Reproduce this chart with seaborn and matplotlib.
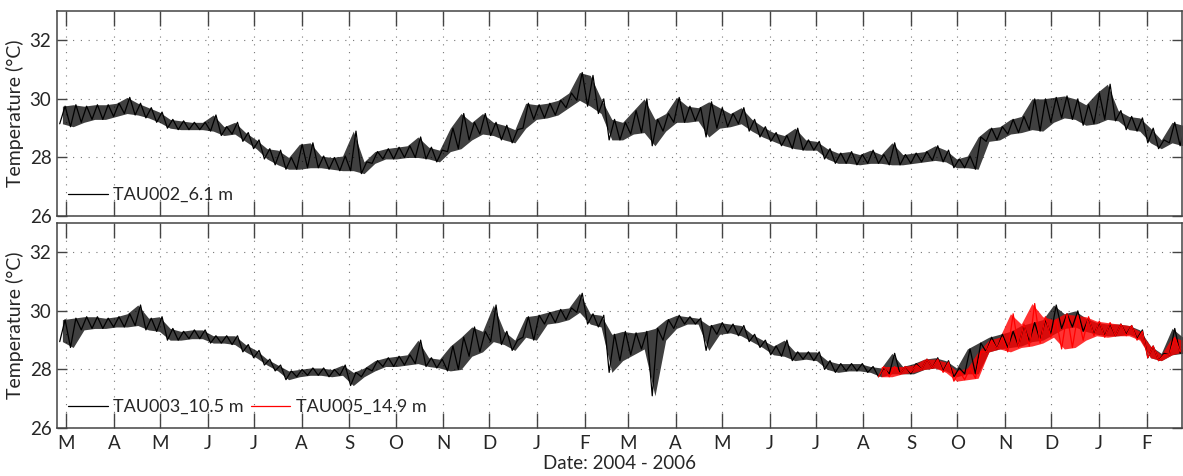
import matplotlib
matplotlib.use("Agg")
import matplotlib.pyplot as plt
import matplotlib.dates as mdates
from matplotlib.ticker import FuncFormatter
import seaborn as sns
import pandas as pd
import numpy as np

# weekly readings (low / high) starting 2004-02-24, one pair per week
first_week = "2004-02-24"

tau002_low = [29.15, 29.05, 29.2, 29.3, 29.3, 29.4, 29.5, 29.45, 29.35, 29.2,
              29.0, 28.95, 28.95, 28.95, 28.9, 28.75, 28.8, 28.55, 28.3, 27.95,
              27.75, 27.6, 27.6, 27.65, 27.65, 27.6, 27.55, 27.55, 27.45, 27.8,
              27.95, 27.95, 28.0, 28.0, 27.95, 27.85, 28.2, 28.3, 28.6, 28.8,
              28.75, 28.6, 28.5, 29.0, 29.3, 29.35, 29.45, 29.7, 29.95, 29.75,
              29.5, 28.6, 28.6, 28.8, 28.85, 28.4, 28.9, 29.2, 29.2, 29.25,
              28.7, 29.0, 29.05, 29.15, 28.9, 28.7, 28.55, 28.4, 28.3, 28.25,
              28.25, 27.95, 27.8, 27.8, 27.75, 27.8, 27.8, 27.75, 27.75, 27.8,
              27.85, 27.9, 27.85, 27.65, 27.65, 27.6, 28.55, 28.6, 28.8, 28.85,
              28.95, 28.9, 29.2, 29.35, 29.3, 29.1, 29.15, 29.3, 29.25, 28.95,
              28.9, 28.5, 28.3, 28.5, 28.4]
tau002_high = [29.75, 29.8, 29.75, 29.8, 29.8, 29.85, 30.05, 29.85, 29.7, 29.55,
               29.3, 29.25, 29.2, 29.2, 29.45, 29.05, 29.2, 28.85, 28.6, 28.3,
               28.25, 28.0, 28.45, 28.5, 28.05, 28.0, 28.05, 28.9, 27.85, 28.2,
               28.3, 28.35, 28.4, 28.7, 28.35, 28.25, 29.0, 29.5, 29.2, 29.5,
               29.2, 29.1, 28.95, 29.85, 29.8, 29.85, 29.95, 30.2, 30.9, 30.8,
               30.0, 29.3, 29.2, 29.6, 30.0, 29.3, 29.5, 30.05, 29.75, 29.7,
               29.9, 29.7, 29.5, 29.7, 29.3, 29.05, 28.85, 28.75, 29.0, 28.6,
               28.55, 28.3, 28.15, 28.2, 28.1, 28.25, 28.1, 28.5, 28.1, 28.15,
               28.2, 28.4, 28.25, 27.95, 28.05, 28.7, 29.0, 29.05, 29.3, 29.4,
               30.0, 30.0, 30.05, 30.1, 30.0, 29.8, 30.2, 30.5, 29.6, 29.4,
               29.35, 29.0, 28.6, 29.2, 29.1]

tau003_low = [28.95, 28.75, 29.35, 29.4, 29.4, 29.45, 29.45, 29.5, 29.35, 29.3,
              29.0, 29.0, 29.05, 29.05, 28.9, 28.9, 28.85, 28.6, 28.4, 28.15,
              27.95, 27.65, 27.75, 27.8, 27.8, 27.75, 27.8, 27.45, 27.75, 27.95,
              28.1, 28.1, 28.15, 28.2, 28.1, 28.05, 27.95, 28.0, 28.45, 28.6,
              28.95, 28.85, 28.65, 29.1, 29.0, 29.55, 29.6, 29.7, 29.95, 29.55,
              29.45, 27.9, 28.3, 28.5, 28.7, 27.1, 29.0, 29.4, 29.55, 29.55,
              28.65, 29.2, 29.25, 29.15, 28.95, 28.75, 28.5, 28.45, 28.3, 28.35,
              28.3, 28.0, 27.9, 27.95, 27.95, 27.9, 27.75, 27.85, 27.85, 27.85,
              28.0, 28.05, 27.95, 27.75, 27.85, 27.85, 28.6, 28.7, 28.75, 28.8,
              28.95, 29.0, 29.2, 29.4, 29.45, 29.3, 29.2, 29.15, 29.15, 29.2,
              29.05, 28.4, 28.3, 28.5, 28.55]
tau003_high = [29.7, 29.75, 29.8, 29.8, 29.75, 29.8, 29.9, 30.2, 29.75, 29.8,
               29.4, 29.3, 29.35, 29.35, 29.15, 29.15, 29.15, 28.85, 28.65, 28.35,
               28.15, 27.95, 28.0, 28.05, 28.05, 28.0, 28.15, 27.9, 28.05, 28.3,
               28.4, 28.45, 28.5, 29.0, 28.4, 28.35, 28.8, 29.1, 29.45, 29.3,
               30.2, 29.3, 29.0, 29.8, 29.85, 29.95, 30.05, 30.1, 30.6, 29.9,
               29.85, 29.2, 29.3, 29.25, 29.3, 29.4, 29.7, 29.85, 29.8, 29.75,
               29.5, 29.6, 29.55, 29.5, 29.2, 29.0, 28.8, 29.0, 28.6, 28.6,
               28.6, 28.3, 28.2, 28.2, 28.2, 28.1, 28.05, 28.55, 28.1, 28.2,
               28.35, 28.4, 28.3, 28.05, 28.7, 28.9, 29.1, 29.2, 29.3, 29.5,
               29.6, 29.7, 30.2, 29.9, 30.0, 29.75, 29.6, 29.55, 29.55, 29.5,
               29.35, 28.8, 28.55, 29.4, 29.1]

# TAU005 starts at week 76 (early August 2005)
tau005_start_week = 76
tau005_low = [27.75, 27.75, 27.85, 27.9, 28.0, 28.05, 27.9, 27.6, 27.65, 27.7,
              28.6, 28.7, 28.6, 28.75, 28.8, 28.9, 29.1, 28.7, 28.75, 29.0,
              29.15, 29.1, 29.15, 29.15, 29.0, 28.4, 28.3, 28.5, 28.6]
tau005_high = [28.1, 28.1, 28.1, 28.15, 28.35, 28.35, 28.25, 27.95, 28.05, 28.6,
               29.0, 29.1, 29.9, 29.55, 30.25, 29.8, 29.7, 29.9, 29.85, 29.8,
               29.65, 29.6, 29.55, 29.5, 29.3, 28.8, 28.5, 29.1, 29.0]

month_letters = ["J", "F", "M", "A", "M", "J", "J", "A", "S", "O", "N", "D"]
x_start, x_end = "2004-02-24", "2006-02-24"
y_ticks = [26, 28, 30, 32]


def to_frame(lows, highs, start_week=0):
    weeks = pd.date_range(first_week, periods=start_week + len(lows), freq="7D")[start_week:]
    t = np.empty(2 * len(lows), dtype="datetime64[ns]")
    v = np.empty(2 * len(lows))
    t[0::2] = (weeks + pd.Timedelta(hours=42)).values
    t[1::2] = (weeks + pd.Timedelta(hours=126)).values
    v[0::2], v[1::2] = lows, highs
    band = pd.DataFrame({"date": weeks + pd.Timedelta(hours=84),
                         "low": lows, "high": highs})
    return pd.DataFrame({"date": t, "temp": v}), band


sns.set_theme(style="white")
plt.rcParams["font.family"] = ["Lato", "DejaVu Sans"]

fig = plt.figure(figsize=(11.83, 4.76), dpi=100)
ax1 = fig.add_axes([0.0482, 0.546, 0.951, 0.431])
ax2 = fig.add_axes([0.0482, 0.1008, 0.951, 0.4307])

d2, b2 = to_frame(tau002_low, tau002_high)
d3, b3 = to_frame(tau003_low, tau003_high)
d5, b5 = to_frame(tau005_low, tau005_high, tau005_start_week)

# noisy records: envelope shaded, weekly low/high trace on top
ax1.fill_between(b2["date"], b2["low"], b2["high"], color="black", alpha=0.75, lw=0)
ax2.fill_between(b3["date"], b3["low"], b3["high"], color="black", alpha=0.75, lw=0)
sns.lineplot(data=d2, x="date", y="temp", ax=ax1, color="black", lw=0.9,
             estimator=None, label="TAU002_6.1 m")
sns.lineplot(data=d3, x="date", y="temp", ax=ax2, color="black", lw=0.9,
             estimator=None, label="TAU003_10.5 m")
ax2.fill_between(b5["date"], b5["low"], b5["high"], color="#ff0000", alpha=0.8, lw=0)
sns.lineplot(data=d5, x="date", y="temp", ax=ax2, color="#ff0000", lw=0.9,
             estimator=None, label="TAU005_14.9 m")

for ax in (ax1, ax2):
    ax.set_xlim(pd.Timestamp(x_start), pd.Timestamp(x_end))
    ax.set_ylim(26, 33)
    ax.set_yticks(y_ticks)
    ax.xaxis.set_major_locator(mdates.MonthLocator())
    ax.xaxis.set_major_formatter(FuncFormatter(
        lambda v, p: month_letters[mdates.num2date(v).month - 1]))
    ax.tick_params(axis="x", direction="in", length=11, width=1.0, top=True,
                   bottom=True, color="#444444", labelsize=13.5, pad=5)
    ax.tick_params(axis="y", direction="in", length=7, width=1.0, left=True,
                   right=True, color="#444444", labelsize=13.5, pad=4)
    ax.grid(True, color="#777777", lw=0.8, linestyle=(0, (1, 6)))
    for s in ax.spines.values():
        s.set_color("#444444")
        s.set_linewidth(1.1)
    ax.set_ylabel("Temperature (°C)", fontsize=14, labelpad=4)
    ax.set_xlabel("")

ax1.tick_params(axis="x", labelbottom=False)
ax2.set_xlabel("Date: 2004 - 2006", fontsize=13.5, labelpad=2)

ax1.legend(loc="lower left", frameon=False, fontsize=13, handlelength=2.2,
           handletextpad=0.3, bbox_to_anchor=(0.0, 0.01), borderaxespad=0.2)
ax2.legend(loc="lower left", frameon=False, fontsize=13, handlelength=2.2,
           handletextpad=0.3, ncol=2, columnspacing=0.4,
           bbox_to_anchor=(0.0, 0.01), borderaxespad=0.2)

fig.savefig("out.png", dpi=100)
